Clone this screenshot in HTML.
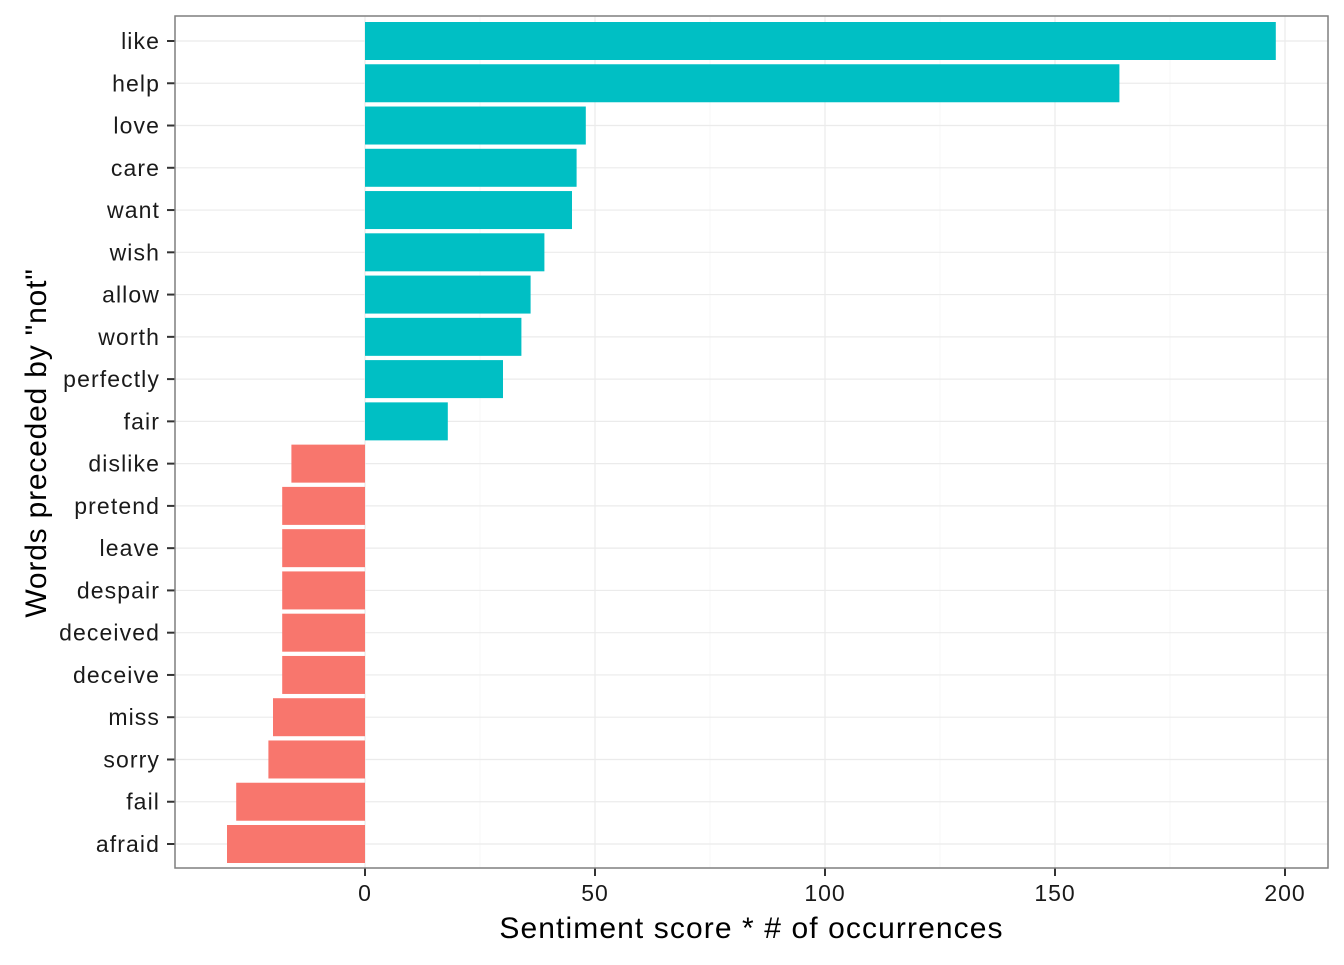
<!DOCTYPE html>
<html><head><meta charset="utf-8"><style>
body{margin:0;background:#fff;font-family:"Liberation Sans",Arial,sans-serif}
svg text{font-family:"Liberation Sans",Arial,sans-serif}
</style></head><body>
<svg id="chart" width="1344" height="960"></svg>
<script>
const words=["like","help","love","care","want","wish","allow","worth","perfectly","fair","dislike","pretend","leave","despair","deceived","deceive","miss","sorry","fail","afraid"];
const values=[198,164,48,46,45,39,36,34,30,18,-16,-18,-18,-18,-18,-18,-20,-21,-28,-30];
const xTicks=[0,50,100,150,200];
const NS="http://www.w3.org/2000/svg";
const svg=document.getElementById('chart');
const L=175,R=1328,T=16,B=868;
const x=v=>365+v*4.6;
const step=(844-41)/19;
const y=i=>41+i*step;
function mk(t,a,p){const e=document.createElementNS(NS,t);for(const k in a)e.setAttribute(k,a[k]);(p||svg).appendChild(e);return e;}
const grid=mk('g',{});


for(let i=0;i<xTicks.length;i++){
  mk('line',{x1:x(xTicks[i]),x2:x(xTicks[i]),y1:T,y2:B,stroke:'#ebebeb','stroke-width':1.2},grid);
  if(i<xTicks.length-1){const m=(xTicks[i]+xTicks[i+1])/2;mk('line',{x1:x(m),x2:x(m),y1:T,y2:B,stroke:'#f4f4f4','stroke-width':0.7},grid);}
}
for(let i=0;i<words.length;i++)mk('line',{x1:L,x2:R,y1:y(i),y2:y(i),stroke:'#ebebeb','stroke-width':1.2},grid);
words.forEach((w,i)=>{
  const v=values[i];
  const r=mk('rect',{x:Math.min(x(0),x(v)),y:y(i)-19,width:Math.abs(x(v)-x(0)),height:38,fill:v>0?'#00bfc4':'#f8766d'});
  
  
  mk('line',{x1:L-8,x2:L,y1:y(i),y2:y(i),stroke:'#333','stroke-width':2});
  const t=mk('text',{x:L-15,y:y(i)+8,'text-anchor':'end','font-size':23,'letter-spacing':1.1,fill:'#1a1a1a'});
  t.textContent=w;
  
  
});
xTicks.forEach(v=>{
  mk('line',{x1:x(v),x2:x(v),y1:B,y2:B+8,stroke:'#333','stroke-width':2});
  const t=mk('text',{x:x(v),y:B+33,'text-anchor':'middle','font-size':23,'letter-spacing':1,fill:'#1a1a1a'});
  t.textContent=v;
  
  
});
const f=mk('rect',{x:L,y:T,width:R-L,height:B-T,fill:'none',stroke:'#7f7f7f','stroke-width':1.5});


const xt=mk('text',{x:(L+R)/2,y:938,'text-anchor':'middle','font-size':30,'letter-spacing':1.1,fill:'#000'});
xt.textContent='Sentiment score * # of occurrences';


const yt=mk('text',{x:0,y:0,'text-anchor':'middle','font-size':30,'letter-spacing':0.8,fill:'#000',transform:'translate(46,443) rotate(-90)'});
yt.textContent='Words preceded by "not"';


</script>
</body></html>
